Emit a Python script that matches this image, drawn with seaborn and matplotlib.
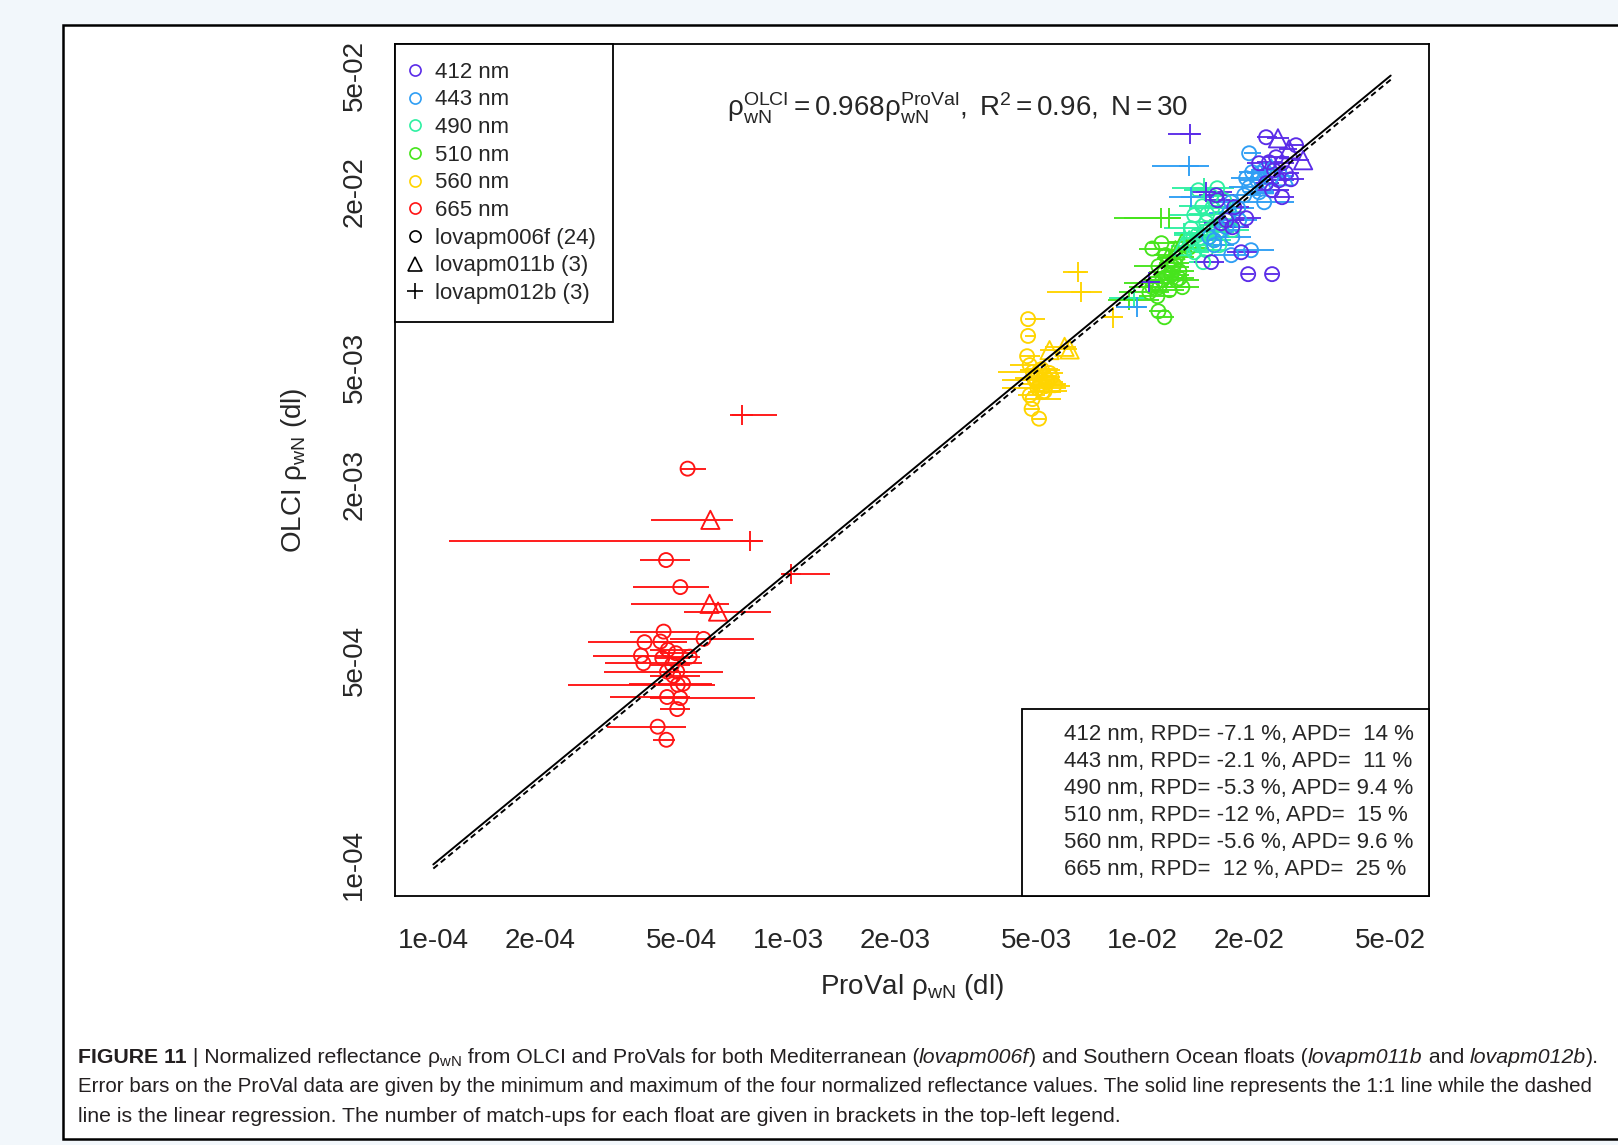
import numpy as np
import pandas as pd
import matplotlib
matplotlib.use("Agg")
import matplotlib.pyplot as plt
from matplotlib.lines import Line2D
from matplotlib.markers import MarkerStyle
from matplotlib.transforms import Affine2D
from matplotlib.patches import Rectangle
from matplotlib.ticker import NullLocator
from matplotlib.offsetbox import TextArea, HPacker, AnchoredOffsetbox
import seaborn as sns

# bands, colours and floats
bands = ["412 nm", "443 nm", "490 nm", "510 nm", "560 nm", "665 nm"]
band_colors = ["#5b2ce8", "#2f9ef4", "#2ef0a2", "#46e41c", "#ffd400", "#ff1414"]
floats = ["lovapm006f", "lovapm011b", "lovapm012b"]
float_n = [24, 3, 3]

# rows: (ProVal, OLCI, ProVal min, ProVal max)
r412_c = [(2.227e-2, 3.076e-2, 2.10e-2, 2.39e-2), (2.704e-2, 2.888e-2, 2.55e-2, 2.85e-2),
          (2.375e-2, 2.627e-2, 2.199e-2, 2.583e-2), (2.469e-2, 2.506e-2, 2.27e-2, 2.668e-2),
          (2.534e-2, 2.316e-2, 2.345e-2, 2.759e-2), (2.617e-2, 2.209e-2, 2.421e-2, 2.85e-2),
          (2.345e-2, 2.371e-2, 2.156e-2, 2.55e-2), (2.421e-2, 2.192e-2, 2.199e-2, 2.668e-2),
          (2.469e-2, 1.918e-2, 2.27e-2, 2.668e-2), (2.315e-2, 2.026e-2, 2.10e-2, 2.583e-2),
          (1.611e-2, 1.948e-2, 1.443e-2, 1.811e-2), (1.622e-2, 1.873e-2, 1.49e-2, 1.811e-2),
          (1.72e-2, 1.60e-2, 1.559e-2, 1.932e-2), (1.788e-2, 1.514e-2, 1.643e-2, 1.995e-2),
          (1.957e-2, 1.625e-2, 1.776e-2, 2.156e-2), (1.664e-2, 1.562e-2, 1.49e-2, 1.87e-2),
          (1.559e-2, 1.15e-2, 1.397e-2, 1.697e-2), (1.895e-2, 1.243e-2, 1.73e-2, 2.10e-2),
          (1.982e-2, 1.046e-2, 1.907e-2, 2.061e-2), (2.315e-2, 1.046e-2, 2.227e-2, 2.405e-2),
          (1.811e-2, 1.772e-2, 1.643e-2, 1.995e-2), (2.27e-2, 2.526e-2, 2.10e-2, 2.453e-2),
          (2.227e-2, 2.141e-2, 2.061e-2, 2.421e-2), (2.128e-2, 2.506e-2, 1.97e-2, 2.345e-2)]
r412_t = [(2.405e-2, 3.05e-2, 2.241e-2, 2.583e-2), (2.583e-2, 2.798e-2, 2.421e-2, 2.722e-2),
          (2.832e-2, 2.566e-2, 2.617e-2, 2.944e-2)]
r412_p = [(1.359e-2, 3.148e-2, 1.181e-2, 1.462e-2), (1.509e-2, 1.994e-2, 1.379e-2, 1.788e-2),
          (1.044e-2, 9.82e-3, 9.77e-3, 1.114e-2)]

r443_c = [(1.995e-2, 2.711e-2, 1.932e-2, 2.155e-2), (2.034e-2, 2.334e-2, 1.87e-2, 2.199e-2),
          (2.128e-2, 2.316e-2, 1.97e-2, 2.30e-2), (2.199e-2, 2.371e-2, 2.02e-2, 2.421e-2),
          (2.10e-2, 2.192e-2, 1.87e-2, 2.27e-2), (2.227e-2, 2.141e-2, 2.061e-2, 2.421e-2),
          (1.995e-2, 2.074e-2, 1.753e-2, 2.199e-2), (2.199e-2, 1.843e-2, 1.97e-2, 2.668e-2),
          (1.776e-2, 1.843e-2, 1.59e-2, 1.995e-2), (1.857e-2, 1.758e-2, 1.664e-2, 2.061e-2),
          (1.753e-2, 1.69e-2, 1.539e-2, 1.932e-2), (1.539e-2, 1.40e-2, 1.397e-2, 1.753e-2),
          (1.59e-2, 1.314e-2, 1.443e-2, 1.811e-2), (1.776e-2, 1.215e-2, 1.59e-2, 1.995e-2),
          (2.02e-2, 1.263e-2, 1.811e-2, 2.345e-2), (1.59e-2, 1.367e-2, 1.49e-2, 1.697e-2),
          (2.128e-2, 1.994e-2, 1.932e-2, 2.345e-2), (1.932e-2, 1.948e-2, 1.643e-2, 2.155e-2),
          (1.664e-2, 1.479e-2, 1.49e-2, 1.87e-2), (1.788e-2, 1.40e-2, 1.622e-2, 2.02e-2),
          (2.30e-2, 2.245e-2, 2.128e-2, 2.501e-2), (1.957e-2, 2.227e-2, 1.776e-2, 2.128e-2),
          (1.72e-2, 1.514e-2, 1.539e-2, 1.932e-2), (1.87e-2, 1.60e-2, 1.697e-2, 2.10e-2)]
r443_t = [(2.30e-2, 2.409e-2, 2.156e-2, 2.453e-2), (2.501e-2, 2.262e-2, 2.345e-2, 2.668e-2),
          (2.199e-2, 2.124e-2, 2.061e-2, 2.39e-2)]
r443_p = [(1.352e-2, 2.447e-2, 1.064e-2, 1.539e-2), (1.37e-2, 1.918e-2, 1.189e-2, 1.59e-2),
          (9.65e-3, 8.06e-3, 8.43e-3, 1.018e-2)]

r490_c = [(1.434e-2, 2.026e-2, 1.31e-2, 1.539e-2), (1.471e-2, 1.786e-2, 1.268e-2, 1.643e-2),
          (1.509e-2, 1.575e-2, 1.352e-2, 1.697e-2), (1.48e-2, 1.15e-2, 1.352e-2, 1.59e-2),
          (1.643e-2, 1.314e-2, 1.49e-2, 1.811e-2), (1.675e-2, 1.538e-2, 1.443e-2, 1.87e-2),
          (1.622e-2, 2.058e-2, 1.49e-2, 1.811e-2), (1.569e-2, 1.758e-2, 1.352e-2, 1.753e-2),
          (1.72e-2, 1.60e-2, 1.539e-2, 1.87e-2), (1.425e-2, 1.422e-2, 1.228e-2, 1.59e-2),
          (1.509e-2, 1.263e-2, 1.397e-2, 1.697e-2), (1.443e-2, 1.314e-2, 1.31e-2, 1.59e-2),
          (1.539e-2, 1.479e-2, 1.397e-2, 1.753e-2), (1.59e-2, 1.367e-2, 1.443e-2, 1.776e-2),
          (1.397e-2, 1.664e-2, 1.189e-2, 1.539e-2), (1.753e-2, 1.704e-2, 1.59e-2, 1.932e-2),
          (1.559e-2, 1.933e-2, 1.397e-2, 1.697e-2), (1.697e-2, 1.873e-2, 1.539e-2, 1.87e-2),
          (1.37e-2, 1.502e-2, 1.151e-2, 1.49e-2), (1.519e-2, 1.677e-2, 1.352e-2, 1.697e-2),
          (1.622e-2, 1.456e-2, 1.443e-2, 1.811e-2), (1.471e-2, 1.389e-2, 1.31e-2, 1.643e-2),
          (1.788e-2, 1.479e-2, 1.643e-2, 1.995e-2), (1.397e-2, 1.243e-2, 1.268e-2, 1.539e-2)]
r490_t = [(1.352e-2, 1.367e-2, 1.268e-2, 1.443e-2), (1.443e-2, 1.411e-2, 1.352e-2, 1.559e-2),
          (1.293e-2, 1.304e-2, 1.204e-2, 1.397e-2)]
r490_p = [(1.49e-2, 2.058e-2, 1.212e-2, 1.697e-2), (1.31e-2, 1.444e-2, 1.228e-2, 1.443e-2),
          (9.46e-3, 8.66e-3, 8.05e-3, 1.018e-2)]

r510_c = [(1.064e-2, 1.28e-2, 9.77e-3, 1.151e-2), (1.129e-2, 1.335e-2, 1.044e-2, 1.228e-2),
          (1.159e-2, 1.215e-2, 1.078e-2, 1.31e-2), (1.107e-2, 1.114e-2, 9.46e-3, 1.268e-2),
          (1.22e-2, 1.105e-2, 1.114e-2, 1.352e-2), (1.268e-2, 1.071e-2, 1.151e-2, 1.397e-2),
          (1.159e-2, 1.022e-2, 1.044e-2, 1.268e-2), (1.244e-2, 9.97e-3, 1.114e-2, 1.443e-2),
          (1.293e-2, 9.44e-3, 1.189e-2, 1.443e-2), (1.114e-2, 9.44e-3, 9.46e-3, 1.352e-2),
          (1.044e-2, 9.07e-3, 8.59e-3, 1.189e-2), (1.10e-2, 8.79e-3, 9.77e-3, 1.228e-2),
          (1.189e-2, 9.22e-3, 1.044e-2, 1.31e-2), (1.085e-2, 9.74e-3, 8.87e-3, 1.228e-2),
          (1.151e-2, 1.062e-2, 1.044e-2, 1.31e-2), (1.204e-2, 1.038e-2, 1.078e-2, 1.352e-2),
          (1.107e-2, 7.81e-3, 1.044e-2, 1.189e-2), (1.151e-2, 7.45e-3, 1.078e-2, 1.228e-2),
          (1.268e-2, 1.012e-2, 1.151e-2, 1.397e-2), (1.136e-2, 9.97e-3, 1.011e-2, 1.268e-2),
          (1.064e-2, 9.44e-3, 9.16e-3, 1.189e-2), (1.228e-2, 1.141e-2, 1.114e-2, 1.352e-2),
          (1.244e-2, 1.196e-2, 1.114e-2, 1.397e-2), (1.352e-2, 1.29e-2, 1.228e-2, 1.539e-2)]
r510_t = [(1.293e-2, 1.345e-2, 1.189e-2, 1.397e-2), (1.236e-2, 1.263e-2, 1.151e-2, 1.335e-2),
          (1.174e-2, 1.187e-2, 1.10e-2, 1.268e-2)]
r510_p = [(1.129e-2, 1.625e-2, 8.32e-3, 1.268e-2), (1.189e-2, 1.625e-2, 8.87e-3, 1.285e-2),
          (9.16e-3, 8.52e-3, 8.0e-3, 1.114e-2)]

r560_c = [(4.75e-3, 7.34e-3, 4.65e-3, 5.29e-3), (4.75e-3, 6.43e-3, 4.65e-3, 4.96e-3),
          (4.72e-3, 5.48e-3, 4.50e-3, 5.12e-3), (4.80e-3, 5.11e-3, 4.22e-3, 5.29e-3),
          (4.90e-3, 4.84e-3, 3.90e-3, 5.53e-3), (5.12e-3, 4.91e-3, 4.50e-3, 5.83e-3),
          (5.29e-3, 4.68e-3, 4.80e-3, 5.64e-3), (5.39e-3, 4.54e-3, 4.96e-3, 5.83e-3),
          (5.53e-3, 4.65e-3, 5.12e-3, 5.83e-3), (4.96e-3, 4.54e-3, 4.01e-3, 5.46e-3),
          (5.12e-3, 4.40e-3, 4.50e-3, 6.06e-3), (5.32e-3, 4.33e-3, 4.80e-3, 6.22e-3),
          (5.64e-3, 4.36e-3, 5.12e-3, 6.02e-3), (5.05e-3, 4.26e-3, 4.00e-3, 6.06e-3),
          (5.22e-3, 4.13e-3, 4.74e-3, 5.90e-3), (5.29e-3, 4.16e-3, 4.80e-3, 6.10e-3),
          (4.89e-3, 3.91e-3, 4.65e-3, 5.90e-3), (4.86e-3, 3.62e-3, 4.65e-3, 5.12e-3),
          (5.10e-3, 3.35e-3, 4.86e-3, 5.29e-3), (4.99e-3, 4.61e-3, 4.36e-3, 5.46e-3),
          (5.46e-3, 4.80e-3, 4.96e-3, 5.94e-3), (4.80e-3, 4.03e-3, 4.44e-3, 5.29e-3),
          (5.19e-3, 4.95e-3, 4.65e-3, 5.75e-3), (5.36e-3, 4.47e-3, 4.90e-3, 5.94e-3)]
r560_t = [(5.46e-3, 5.75e-3, 5.12e-3, 5.83e-3), (6.02e-3, 5.90e-3, 5.29e-3, 6.50e-3),
          (6.22e-3, 5.78e-3, 5.83e-3, 6.54e-3)]
r560_p = [(6.56e-3, 1.065e-2, 5.96e-3, 6.92e-3), (6.70e-3, 9.10e-3, 5.36e-3, 7.68e-3),
          (8.26e-3, 7.44e-3, 7.71e-3, 8.78e-3)]

r665_c = [(5.21e-4, 2.26e-3, 5.00e-4, 5.87e-4), (4.53e-4, 1.10e-3, 3.83e-4, 5.28e-4),
          (4.97e-4, 8.89e-4, 3.66e-4, 6.00e-4), (4.46e-4, 6.26e-4, 3.58e-4, 5.61e-4),
          (3.94e-4, 5.76e-4, 2.73e-4, 5.20e-4), (4.37e-4, 5.79e-4, 3.83e-4, 4.97e-4),
          (5.78e-4, 5.91e-4, 4.66e-4, 8.00e-4), (3.85e-4, 5.18e-4, 2.82e-4, 4.66e-4),
          (4.58e-4, 5.42e-4, 4.09e-4, 5.30e-4), (4.83e-4, 5.28e-4, 4.37e-4, 5.48e-4),
          (5.28e-4, 5.14e-4, 4.66e-4, 5.66e-4), (3.91e-4, 4.88e-4, 3.05e-4, 5.72e-4),
          (4.71e-4, 4.82e-4, 4.09e-4, 5.30e-4), (4.56e-4, 4.57e-4, 3.02e-4, 6.54e-4),
          (4.87e-4, 4.57e-4, 4.37e-4, 5.24e-4), (4.89e-4, 4.12e-4, 2.40e-4, 6.24e-4),
          (5.06e-4, 4.15e-4, 3.56e-4, 6.11e-4), (4.56e-4, 3.74e-4, 3.14e-4, 5.30e-4),
          (4.97e-4, 3.71e-4, 4.09e-4, 8.05e-4), (4.87e-4, 3.40e-4, 4.35e-4, 5.30e-4),
          (4.29e-4, 2.96e-4, 3.09e-4, 5.17e-4), (4.54e-4, 2.67e-4, 4.15e-4, 4.81e-4),
          (4.42e-4, 5.08e-4, 4.23e-4, 5.30e-4), (4.75e-4, 4.42e-4, 4.09e-4, 5.66e-4)]
r665_t = [(6.04e-4, 1.51e-3, 4.11e-4, 6.98e-4), (6.01e-4, 7.79e-4, 3.62e-4, 6.83e-4),
          (6.35e-4, 7.33e-4, 5.08e-4, 8.95e-4)]
r665_p = [(7.44e-4, 3.45e-3, 6.84e-4, 9.30e-4), (7.83e-4, 1.28e-3, 1.11e-4, 8.48e-4),
          (1.02e-3, 9.86e-4, 9.70e-4, 1.31e-3)]

slope = 0.968
stats_lines = ["412 nm, RPD= -7.1 %, APD=  14 %",
               "443 nm, RPD= -2.1 %, APD=  11 %",
               "490 nm, RPD= -5.3 %, APD= 9.4 %",
               "510 nm, RPD= -12 %, APD=  15 %",
               "560 nm, RPD= -5.6 %, APD= 9.6 %",
               "665 nm, RPD=  12 %, APD=  25 %"]
ticks = [1e-4, 2e-4, 5e-4, 1e-3, 2e-3, 5e-3, 1e-2, 2e-2, 5e-2]
xtick_labels = ["1e-04", "2e-04", "5e-04", "1e-03", "2e-03", "5e-03", "1e-02", "2e-02", "5e-02"]
ytick_labels = ["1e-04", "", "5e-04", "", "2e-03", "5e-03", "", "2e-02", "5e-02"]

# caption: first line as (text, weight, style) pieces
caption_first = [("FIGURE 11", "bold", "normal"), (" | Normalized reflectance ", "normal", "normal"),
                 (r"$\mathrm{\rho_{wN}}$", "normal", "normal"),
                 (" from OLCI and ProVals for both Mediterranean (", "normal", "normal"),
                 ("lovapm006f", "normal", "italic"), (") and Southern Ocean floats (", "normal", "normal"),
                 ("lovapm011b", "normal", "italic"), (" and ", "normal", "normal"),
                 ("lovapm012b", "normal", "italic"), (").", "normal", "normal")]
caption_rest = [
    "Error bars on the ProVal data are given by the minimum and maximum of the four normalized reflectance "
    "values. The solid line represents the 1:1 line while the dashed",
    "line is the linear regression. The number of match-ups for each float are given in brackets in the top-left legend.",
]

# ---- table for seaborn (665 first so the blue end is drawn on top)
groups = [("665 nm", r665_c, r665_t, r665_p), ("560 nm", r560_c, r560_t, r560_p),
          ("510 nm", r510_c, r510_t, r510_p), ("490 nm", r490_c, r490_t, r490_p),
          ("443 nm", r443_c, r443_t, r443_p), ("412 nm", r412_c, r412_t, r412_p)]
recs = []
for band, *per_float in groups:
    for fl, rows in zip(floats, per_float):
        for x, y, lo, hi in rows:
            recs.append({"band": band, "float": fl, "proval": x, "olci": y, "lo": lo, "hi": hi})
df = pd.DataFrame(recs)
palette = dict(zip(bands, band_colors))

sns.set_style("white")
plt.rcParams["font.family"] = ["Liberation Sans", "DejaVu Sans"]
plt.rcParams["mathtext.fontset"] = "custom"
plt.rcParams["mathtext.rm"] = "Liberation Sans"
plt.rcParams["mathtext.it"] = "Liberation Sans:italic"
plt.rcParams["mathtext.bf"] = "Liberation Sans:bold"

fig = plt.figure(figsize=(16.18, 11.45), dpi=100, facecolor="#f2f7fb")
fig.patches.append(Rectangle((63 / 1618, 1 - 1139 / 1145), 1.0, (1139 - 25) / 1145,
                             transform=fig.transFigure, facecolor="white",
                             edgecolor="black", lw=1.8, zorder=-5))
ax = fig.add_axes([395 / 1618, 1 - 896 / 1145, (1429 - 395) / 1618, (896 - 44) / 1145])
ax.set_zorder(2)

# error bars on ProVal
ax.hlines(df["olci"], df["lo"], df["hi"], colors=df["band"].map(palette), lw=1.35, zorder=2)

markers = {
    "lovapm006f": MarkerStyle("o", fillstyle="none"),
    "lovapm011b": MarkerStyle("^", fillstyle="none", transform=Affine2D().scale(1.3)),
    "lovapm012b": MarkerStyle("+", transform=Affine2D().scale(1.45)),
}
sns.scatterplot(data=df, x="proval", y="olci", hue="band", style="float", palette=palette,
                markers=markers, s=102, linewidth=1.35, legend=False, ax=ax, zorder=3)
pts = ax.collections[-1]
pts.set_edgecolors(pts.get_facecolors())
pts.set_facecolors("none")

# 1:1 line and regression
xs = np.array([ticks[0], ticks[-1]])
ax.plot(xs, xs, color="black", lw=1.4, zorder=4)
ax.plot(xs, slope * xs, color="black", lw=1.4, ls=(0, (3, 2)), zorder=4)

ax.set_xscale("log")
ax.set_yscale("log")
pad = 0.04 * np.log10(ticks[-1] / ticks[0])
lims = (ticks[0] / 10 ** pad, ticks[-1] * 10 ** pad)
ax.set_xlim(lims)
ax.set_ylim(lims)
ax.set_xticks(ticks)
ax.set_xticklabels(xtick_labels)
ax.set_yticks(ticks)
ax.set_yticklabels(ytick_labels)
ax.xaxis.set_minor_locator(NullLocator())
ax.yaxis.set_minor_locator(NullLocator())
ax.tick_params(direction="out", length=8.9, width=1.0, labelsize=20, color="black")
ax.tick_params(axis="x", pad=14)
ax.tick_params(axis="y", pad=11, labelrotation=90)
for lab in ax.get_yticklabels():
    lab.set_va("center")
for sp in ax.spines.values():
    sp.set_color("black")
    sp.set_linewidth(1.3)

ax.set_xlabel(r"ProVal $\mathrm{\rho_{wN}}$ (dl)", fontsize=20)
ax.set_ylabel(r"OLCI $\mathrm{\rho_{wN}}$ (dl)", fontsize=20)
ax.xaxis.set_label_coords(0.5, -0.089)
ax.yaxis.set_label_coords(-0.083, 0.5)

ax.text(0.5435, 0.9155,
        r"$\mathrm{\rho_{wN}^{OLCI} = 0.968\rho_{wN}^{ProVal},\ R^{2} = 0.96,\ N = 30}$",
        transform=ax.transAxes, ha="center", va="baseline", fontsize=20)

# legend: bands then floats
handles = [Line2D([], [], ls="none", marker="o", mfc="none", mec=c, ms=8, mew=1.2) for c in band_colors]
labels = list(bands)
for fl, n, m, ms in zip(floats, float_n, ["o", "^", "+"], [8, 10, 11]):
    handles.append(Line2D([], [], ls="none", marker=m, mfc="none", mec="black", ms=ms, mew=1.2))
    labels.append(f"{fl} ({n})")
leg = ax.legend(handles, labels, loc="upper left", borderaxespad=0, fontsize=16, frameon=True,
                fancybox=False, edgecolor="black", framealpha=1, borderpad=0.8,
                handlelength=0.2, handletextpad=0.78, labelspacing=0.3)
leg.get_frame().set_linewidth(1.3)
ax.add_artist(leg)

blank = [Line2D([], [], ls="none") for _ in stats_lines]
leg2 = ax.legend(blank, stats_lines, loc="lower right", borderaxespad=0, fontsize=16, frameon=True,
                 fancybox=False, edgecolor="black", framealpha=1, borderpad=0.7,
                 handlelength=0.4, handletextpad=0.76, labelspacing=0.27)
leg2.get_frame().set_linewidth(1.3)

# caption
cap_kw = dict(fontsize=15.3, color="#231f20")
pieces = [TextArea(t, textprops=dict(fontweight=w, fontstyle=s, **cap_kw)) for t, w, s in caption_first]
row = HPacker(children=pieces, align="baseline", pad=0, sep=0)
fig.add_artist(AnchoredOffsetbox(loc="lower left", child=row, pad=0, borderpad=0, frameon=False,
                                 bbox_to_anchor=(78 / 1618, 1 - 1069 / 1145),
                                 bbox_transform=fig.transFigure))
fig.text(78 / 1618, 1 - 1092 / 1145, caption_rest[0], va="baseline", fontsize=14.8, color="#231f20")
fig.text(78 / 1618, 1 - 1122 / 1145, caption_rest[1], va="baseline", **cap_kw)

fig.savefig("out.png", dpi=100, facecolor=fig.get_facecolor())
